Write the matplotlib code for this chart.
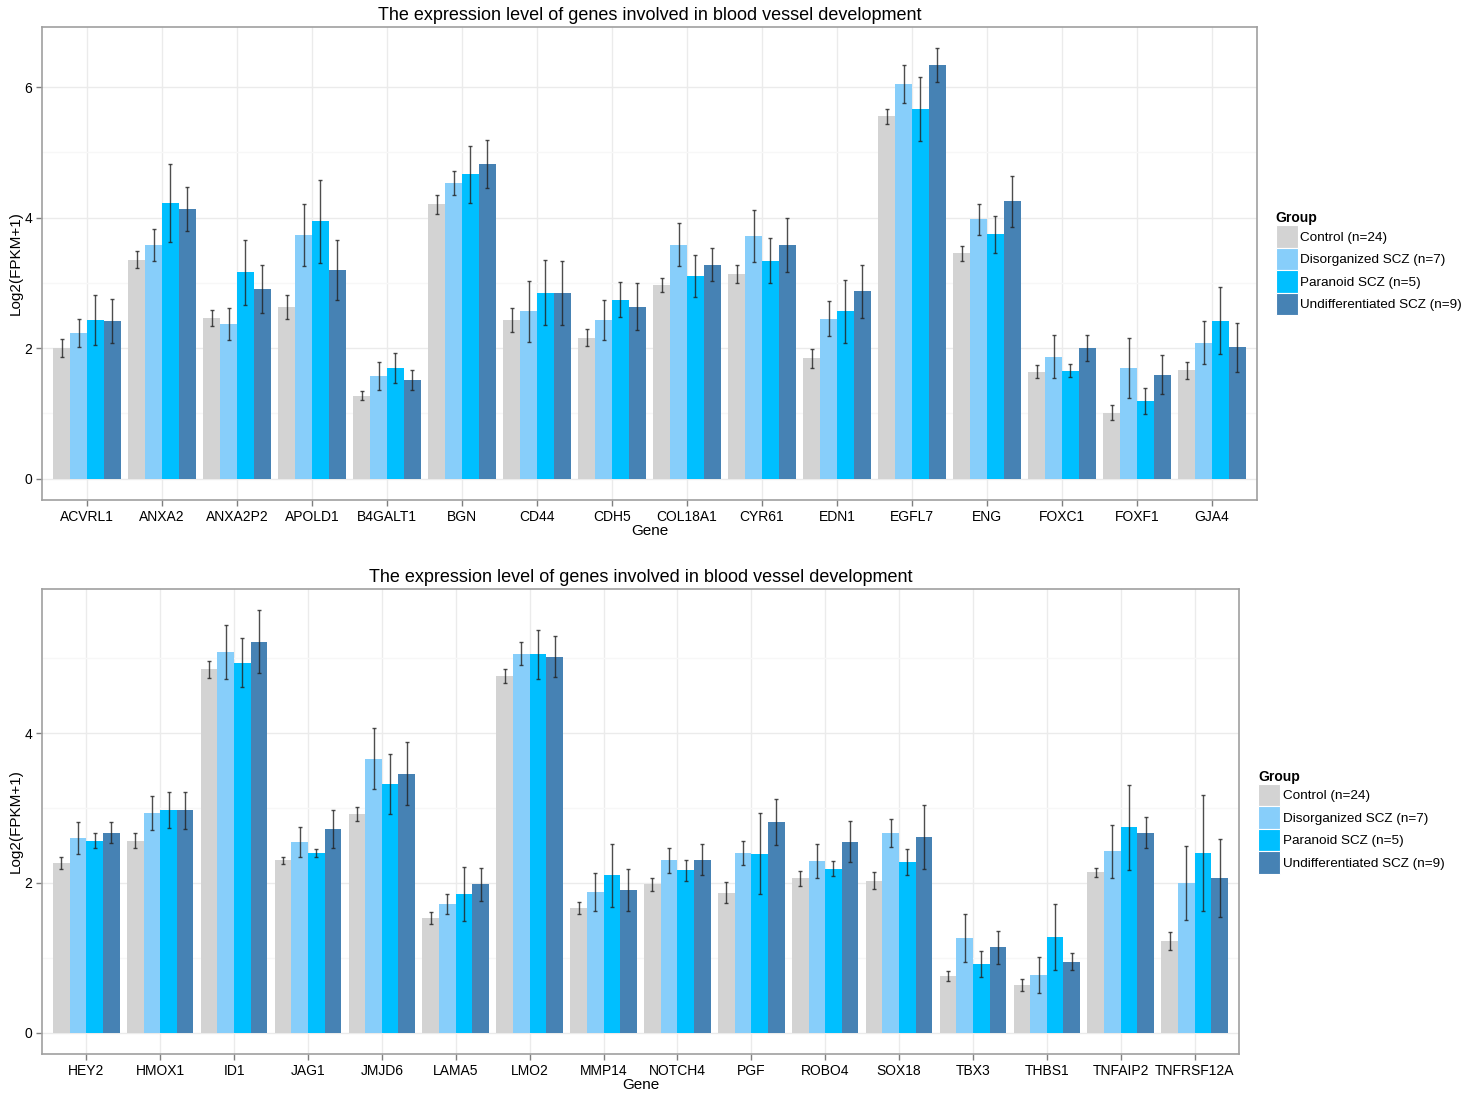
import matplotlib
matplotlib.use("Agg")
import matplotlib.pyplot as plt
import numpy as np

plt.rcParams["font.family"] = ["Liberation Sans", "DejaVu Sans"]

groups = ["Control (n=24)", "Disorganized SCZ (n=7)", "Paranoid SCZ (n=5)",
          "Undifferentiated SCZ (n=9)"]
group_colors = ["#D3D3D3", "#87CEFA", "#00BFFF", "#4682B4"]

title = "The expression level of genes involved in blood vessel development"

# first panel
genes_a = ["ACVRL1", "ANXA2", "ANXA2P2", "APOLD1", "B4GALT1", "BGN", "CD44", "CDH5",
           "COL18A1", "CYR61", "EDN1", "EGFL7", "ENG", "FOXC1", "FOXF1", "GJA4"]
control_a = [2.00, 3.35, 2.46, 2.63, 1.27, 4.20, 2.43, 2.16,
             2.97, 3.14, 1.84, 5.55, 3.45, 1.64, 1.01, 1.66]
control_a_err = [0.14, 0.13, 0.13, 0.19, 0.07, 0.15, 0.19, 0.13,
                 0.11, 0.14, 0.14, 0.12, 0.12, 0.10, 0.11, 0.13]
disorg_a = [2.23, 3.58, 2.37, 3.73, 1.57, 4.53, 2.56, 2.43,
            3.58, 3.72, 2.45, 6.04, 3.97, 1.87, 1.69, 2.08]
disorg_a_err = [0.22, 0.24, 0.25, 0.47, 0.22, 0.18, 0.46, 0.31,
                0.33, 0.40, 0.27, 0.29, 0.24, 0.33, 0.46, 0.33]
paranoid_a = [2.43, 4.22, 3.16, 3.94, 1.69, 4.66, 2.85, 2.74,
              3.10, 3.34, 2.56, 5.67, 3.74, 1.65, 1.19, 2.42]
paranoid_a_err = [0.39, 0.60, 0.50, 0.63, 0.23, 0.44, 0.50, 0.27,
                  0.32, 0.34, 0.49, 0.49, 0.28, 0.10, 0.20, 0.51]
undiff_a = [2.41, 4.13, 2.91, 3.19, 1.51, 4.82, 2.85, 2.63,
            3.28, 3.58, 2.87, 6.33, 4.25, 2.00, 1.59, 2.01]
undiff_a_err = [0.34, 0.34, 0.37, 0.46, 0.16, 0.37, 0.49, 0.36,
                0.25, 0.41, 0.41, 0.26, 0.39, 0.20, 0.30, 0.38]

# second panel
genes_b = ["HEY2", "HMOX1", "ID1", "JAG1", "JMJD6", "LAMA5", "LMO2", "MMP14",
           "NOTCH4", "PGF", "ROBO4", "SOX18", "TBX3", "THBS1", "TNFAIP2", "TNFRSF12A"]
control_b = [2.27, 2.56, 4.85, 2.30, 2.92, 1.53, 4.76, 1.67,
             1.98, 1.87, 2.06, 2.03, 0.76, 0.64, 2.14, 1.22]
control_b_err = [0.08, 0.10, 0.11, 0.05, 0.10, 0.08, 0.09, 0.08,
                 0.09, 0.14, 0.10, 0.11, 0.07, 0.08, 0.06, 0.12]
disorg_b = [2.60, 2.93, 5.08, 2.54, 3.66, 1.72, 5.06, 1.88,
            2.30, 2.40, 2.29, 2.67, 1.26, 0.77, 2.42, 2.00]
disorg_b_err = [0.21, 0.23, 0.36, 0.20, 0.41, 0.13, 0.15, 0.25,
                0.17, 0.16, 0.23, 0.19, 0.32, 0.24, 0.35, 0.49]
paranoid_b = [2.56, 2.97, 4.94, 2.40, 3.32, 1.85, 5.05, 2.10,
              2.17, 2.39, 2.19, 2.28, 0.92, 1.28, 2.74, 2.40]
paranoid_b_err = [0.10, 0.24, 0.33, 0.05, 0.40, 0.36, 0.33, 0.42,
                  0.14, 0.54, 0.10, 0.17, 0.17, 0.44, 0.57, 0.77]
undiff_b = [2.67, 2.97, 5.22, 2.72, 3.46, 1.98, 5.02, 1.90,
            2.31, 2.81, 2.55, 2.61, 1.14, 0.95, 2.67, 2.06]
undiff_b_err = [0.14, 0.25, 0.42, 0.25, 0.42, 0.22, 0.27, 0.28,
                0.21, 0.31, 0.27, 0.43, 0.22, 0.11, 0.21, 0.52]


def bar_panel(ax, genes, means, errs, legend_pos):
    n = len(genes)
    x = np.arange(n)
    width = 0.9 / len(means)
    handles = []
    for i, (vals, se) in enumerate(zip(means, errs)):
        pos = x - 0.45 + width * (i + 0.5)
        b = ax.bar(pos, vals, width=width, color=group_colors[i], linewidth=0,
                   zorder=2, label=groups[i])
        ax.errorbar(pos, vals, yerr=se, fmt="none", ecolor="#222222", elinewidth=1,
                    capsize=1.6, capthick=1, alpha=0.8, zorder=3)
        handles.append(b)

    top = max(max(np.array(v) + np.array(e)) for v, e in zip(means, errs))
    ax.set_ylim(-0.05 * top, top * 1.05)
    ax.set_xlim(-0.6, n - 0.4)
    ax.set_xticks(x)
    ax.set_xticklabels(genes, fontsize=10)
    ax.set_yticks(np.arange(0, top, 2))
    ax.set_yticks(np.arange(1, top, 2), minor=True)
    ax.tick_params(axis="y", which="minor", length=0)
    ax.tick_params(axis="both", which="major", length=4, width=1, color="#7F7F7F",
                   labelsize=10, labelcolor="black", pad=3)
    ax.grid(True, which="major", color="#EBEBEB", linewidth=1, zorder=0)
    ax.grid(True, which="minor", axis="y", color="#F7F7F7", linewidth=1, zorder=0)
    ax.set_axisbelow(True)
    for sp in ax.spines.values():
        sp.set_color("#A0A0A0")
        sp.set_linewidth(1.2)
    ax.set_title(title, fontsize=13, pad=5)
    ax.set_xlabel("Gene", fontsize=11, labelpad=0)
    ax.set_ylabel("Log2(FPKM+1)", fontsize=11, labelpad=1)

    # square colour keys stacked with no gap, like a ggplot guide
    leg = fig.legend(handles=handles, title="Group", loc="center left",
                     bbox_to_anchor=legend_pos, frameon=False, fontsize=9.7,
                     title_fontproperties={"weight": "bold", "size": 10},
                     handlelength=1.63, handleheight=2.19, labelspacing=0.0,
                     handletextpad=0.2, borderaxespad=0, borderpad=0)
    leg._legend_box.align = "left"
    for p in leg.get_patches():
        p.set_edgecolor("white")
        p.set_linewidth(0.8)


fig = plt.figure(figsize=(14.73, 10.93), dpi=100)
ax_a = fig.add_axes([0.0285, 0.5425, 0.8249, 0.4328])
ax_b = fig.add_axes([0.0285, 0.0357, 0.8126, 0.4254])

bar_panel(ax_a, genes_a, [control_a, disorg_a, paranoid_a, undiff_a],
          [control_a_err, disorg_a_err, paranoid_a_err, undiff_a_err], (0.866, 0.759))
bar_panel(ax_b, genes_b, [control_b, disorg_b, paranoid_b, undiff_b],
          [control_b_err, disorg_b_err, paranoid_b_err, undiff_b_err], (0.854, 0.248))

fig.savefig("out.png", dpi=100)
